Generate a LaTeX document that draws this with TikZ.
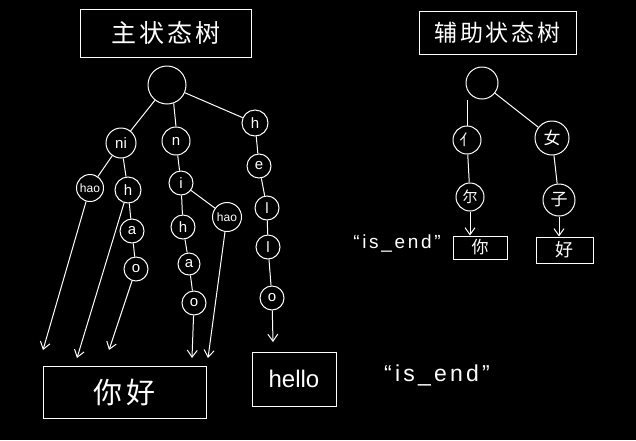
\documentclass[tikz,border=0pt]{standalone}
\usepackage{fontspec}
\setmainfont{Liberation Sans}
\newfontfamily\cjk{Noto Sans CJK SC}
\newfontfamily\cjkwide[LetterSpace=12]{Noto Sans CJK SC}
\newfontfamily\latwide[LetterSpace=14]{Liberation Sans}
\usetikzlibrary{arrows.meta}
\begin{document}
\begin{tikzpicture}[x=1pt,y=-1pt,
  cn/.style={circle,draw=white,line width=1pt,inner sep=0pt,text=white,font=\fontsize{15}{15}\selectfont},
  sm/.style={font=\fontsize{12}{12}\selectfont},
  bx/.style={draw=white,line width=1pt,inner sep=0pt,text=white},
  ln/.style={draw=white,line width=1pt},
  arr/.style={draw=white,line width=1pt,-{Straight Barb[length=7pt,width=10pt]}},
  lbl/.style={text=white,inner sep=0pt}]
\fill[black] (0,0) rectangle (636,440);
\useasboundingbox (0,0) rectangle (636,440);
% titles
\node[bx,minimum width=171pt,minimum height=48pt,font=\cjkwide\fontsize{25}{25}\selectfont] (t1) at (165.5,33) {主状态树};
\node[bx,minimum width=157pt,minimum height=43pt,font=\cjkwide\fontsize{23}{23}\selectfont] (t2) at (497.5,32.5) {辅助状态树};
% main tree
\node[cn,minimum size=38pt] (root) at (167,85) {};
\node[cn,minimum size=30pt] (ni) at (121,143) {ni};
\node[cn,minimum size=28pt] (n) at (176,141) {n};
\node[cn,minimum size=26pt] (h1) at (255,123) {h};
\node[cn,sm,minimum size=27pt] (hao1) at (90,188) {hao};
\node[cn,minimum size=26pt] (h2) at (128,190) {h};
\node[cn,minimum size=24pt] (a1) at (132,231) {a};
\node[cn,minimum size=24pt] (o1) at (136,269) {o};
\node[cn,minimum size=24pt] (i) at (181,183) {i};
\node[cn,minimum size=24pt] (h3) at (183,227) {h};
\node[cn,sm,minimum size=29pt] (hao2) at (227,217) {hao};
\node[cn,minimum size=22pt] (a2) at (189,264) {a};
\node[cn,minimum size=24pt] (o2) at (194,303) {o};
\node[cn,minimum size=24pt] (e) at (259,166) {e};
\node[cn,minimum size=24pt] (l1) at (267,208) {l};
\node[cn,minimum size=24pt] (l2) at (268,247) {l};
\node[cn,minimum size=24pt] (o3) at (272,298) {o};
\draw[ln] (root) -- (ni);
\draw[ln] (root.-70) -- (n.north);
\draw[ln] (root) -- (h1);
\draw[ln] (ni) -- (hao1);
\draw[ln] (ni) -- (h2);
\draw[ln] (h2) -- (a1);
\draw[ln] (a1) -- (o1);
\draw[ln] (n) -- (i);
\draw[ln] (i) -- (h3);
\draw[ln] (i) -- (hao2);
\draw[ln] (h3) -- (a2);
\draw[ln] (a2) -- (o2);
\draw[ln] (h1) -- (e);
\draw[ln] (e) -- (l1);
\draw[ln] (l1) -- (l2);
\draw[ln] (l2) -- (o3);
% end boxes
\node[bx,minimum width=163pt,minimum height=52pt,font=\cjkwide\fontsize{29}{29}\selectfont] (nihao) at (124.5,392) {你好};
\node[bx,minimum width=84pt,minimum height=54pt,font=\fontsize{24}{24}\selectfont] (hello) at (294,379) {hello};
\node[lbl,font=\latwide\fontsize{23}{23}\selectfont] (isend2) at (437,375) {“is\_end”};
\coordinate (e1) at (43,350);
\coordinate (e2) at (77,358);
\coordinate (e3) at (109,350);
\coordinate (e4) at (192,358);
\coordinate (e5) at (208,358);
\coordinate (e6) at (273,342);
\draw[arr] (hao1) -- (e1);
\draw[arr] (h2) -- (e2);
\draw[arr] (o1) -- (e3);
\draw[arr] (o2) -- (e4);
\draw[arr] (hao2) -- (e5);
\draw[arr] (o3) -- (e6);
% aux tree
\node[cn,minimum size=32pt] (root2) at (482,83) {};
\node[cn,minimum size=28pt,font=\cjk\fontsize{15}{15}\selectfont] (ren) at (467,140) {亻};
\node[cn,minimum size=34pt,font=\cjk\fontsize{17}{17}\selectfont] (nv) at (552,138) {女};
\node[cn,minimum size=28pt,font=\cjk\fontsize{15}{15}\selectfont] (er) at (470,197) {尔};
\node[cn,minimum size=32pt,font=\cjk\fontsize{17}{17}\selectfont] (zi) at (559,200) {子};
\draw[ln] (ren.north) -- (ren.north |- root2.south);
\draw[ln] (root2) -- (nv);
\draw[ln] (ren) -- (er);
\draw[ln] (nv) -- (zi);
\node[bx,minimum width=54pt,minimum height=23pt,font=\cjk\fontsize{17}{17}\selectfont] (ni2) at (480,247.5) {你};
\node[bx,minimum width=57pt,minimum height=26pt,font=\cjk\fontsize{18}{18}\selectfont] (hao3) at (564.5,250) {好};
\draw[arr] (er) -- (er |- ni2.north);
\draw[arr] (zi) -- (zi |- hao3.north);
\node[lbl,font=\latwide\fontsize{19}{19}\selectfont] (isend1) at (397,243) {“is\_end”};
\end{tikzpicture}
\end{document}
